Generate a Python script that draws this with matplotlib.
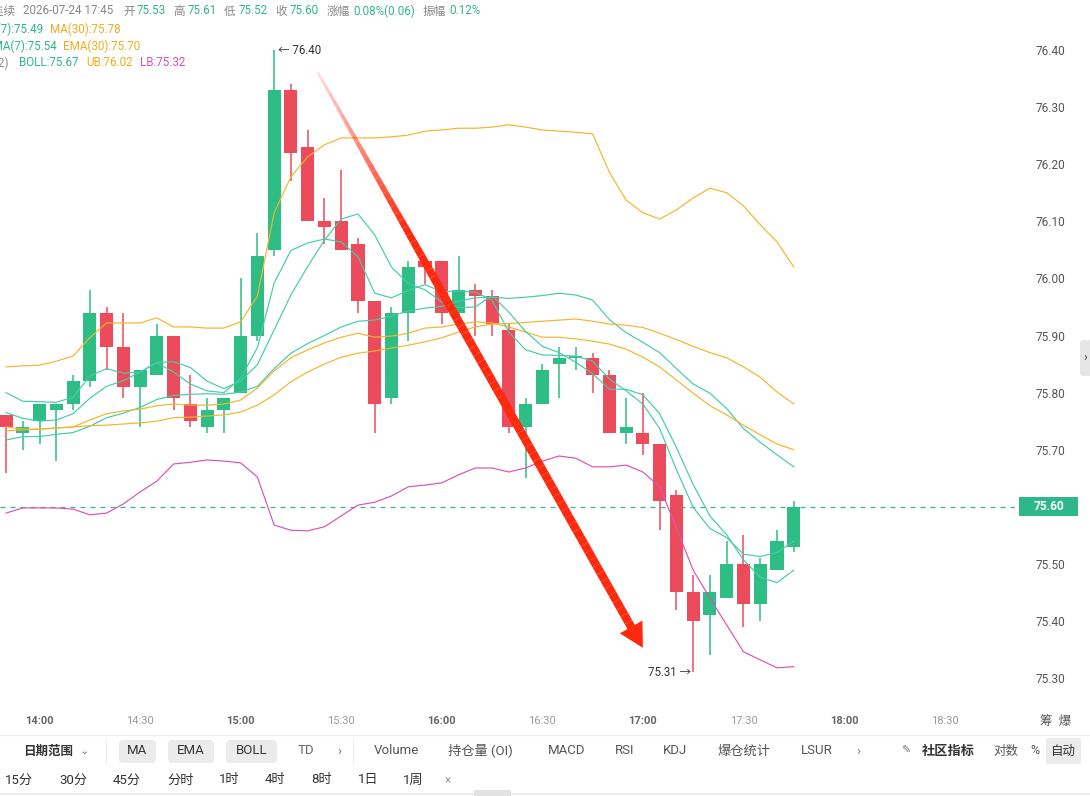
import numpy as np
import matplotlib.pyplot as plt
from matplotlib.patches import Rectangle, FancyBboxPatch, Polygon
from matplotlib.collections import LineCollection
from matplotlib.transforms import IdentityTransform, blended_transform_factory

plt.rcParams['font.family'] = ['Roboto', 'Noto Sans CJK SC', 'DejaVu Sans']

# 5-minute candles
times = ['13:50', '13:55', '14:00', '14:05', '14:10', '14:15', '14:20', '14:25',
         '14:30', '14:35', '14:40', '14:45', '14:50', '14:55', '15:00', '15:05',
         '15:10', '15:15', '15:20', '15:25', '15:30', '15:35', '15:40', '15:45',
         '15:50', '15:55', '16:00', '16:05', '16:10', '16:15', '16:20', '16:25',
         '16:30', '16:35', '16:40', '16:45', '16:50', '16:55', '17:00', '17:05',
         '17:10', '17:15', '17:20', '17:25', '17:30', '17:35', '17:40', '17:45']
opens = [75.76, 75.73, 75.75, 75.77, 75.78, 75.82, 75.94, 75.88, 75.81, 75.83, 75.90, 75.78,
         75.74, 75.77, 75.80, 75.90, 76.05, 76.33, 76.23, 76.10, 76.10, 76.06, 75.96, 75.79,
         75.94, 76.03, 76.03, 75.94, 75.98, 75.97, 75.91, 75.74, 75.78, 75.85, 75.86, 75.86,
         75.83, 75.73, 75.73, 75.71, 75.62, 75.45, 75.41, 75.44, 75.50, 75.43, 75.49, 75.53]
highs = [75.76, 75.75, 75.78, 75.78, 75.83, 75.98, 75.95, 75.94, 75.84, 75.92, 75.90, 75.83,
         75.79, 75.79, 76.00, 76.08, 76.40, 76.34, 76.26, 76.14, 76.19, 76.07, 75.96, 75.95,
         76.03, 76.04, 76.03, 76.04, 75.99, 75.98, 75.92, 75.79, 75.85, 75.88, 75.88, 75.87,
         75.84, 75.79, 75.80, 75.71, 75.63, 75.48, 75.48, 75.54, 75.55, 75.51, 75.56, 75.61]
lows = [75.66, 75.70, 75.71, 75.68, 75.77, 75.81, 75.84, 75.79, 75.74, 75.83, 75.77, 75.74,
        75.73, 75.73, 75.80, 75.89, 76.04, 76.17, 76.10, 76.06, 76.05, 75.94, 75.73, 75.78,
        75.89, 75.99, 75.92, 75.93, 75.90, 75.90, 75.73, 75.65, 75.78, 75.79, 75.84, 75.80,
        75.73, 75.71, 75.69, 75.56, 75.42, 75.31, 75.34, 75.44, 75.39, 75.40, 75.49, 75.52]
closes = [75.74, 75.74, 75.78, 75.78, 75.82, 75.94, 75.88, 75.81, 75.84, 75.90, 75.79, 75.75,
          75.77, 75.79, 75.90, 76.04, 76.33, 76.22, 76.10, 76.09, 76.05, 75.96, 75.78, 75.94,
          76.02, 76.02, 75.94, 75.98, 75.97, 75.92, 75.74, 75.78, 75.84, 75.86, 75.86, 75.83,
          75.73, 75.74, 75.71, 75.61, 75.45, 75.40, 75.45, 75.50, 75.43, 75.50, 75.54, 75.60]

ma7 = [75.765, 75.755, 75.750, 75.752, 75.763, 75.790, 75.811, 75.821, 75.836, 75.853, 75.854, 75.844,
       75.820, 75.807, 75.820, 75.849, 75.910, 75.971, 76.021, 76.067, 76.104, 76.113, 76.076, 76.020,
       75.991, 75.980, 75.959, 75.949, 75.950, 75.970, 75.941, 75.907, 75.881, 75.870, 75.853, 75.833,
       75.806, 75.806, 75.796, 75.763, 75.704, 75.639, 75.584, 75.551, 75.507, 75.477, 75.467, 75.489]
ema7 = [75.800, 75.785, 75.784, 75.783, 75.792, 75.829, 75.842, 75.834, 75.836, 75.852, 75.836, 75.815,
        75.803, 75.800, 75.825, 75.879, 75.992, 76.049, 76.062, 76.069, 76.064, 76.038, 75.974, 75.966,
        75.979, 75.989, 75.977, 75.978, 75.976, 75.962, 75.906, 75.875, 75.866, 75.865, 75.864, 75.855,
        75.824, 75.803, 75.780, 75.737, 75.665, 75.599, 75.562, 75.546, 75.517, 75.513, 75.520, 75.540]
ma30 = [75.733, 75.735, 75.736, 75.738, 75.740, 75.742, 75.743, 75.745, 75.747, 75.750, 75.756, 75.757,
        75.759, 75.761, 75.766, 75.778, 75.796, 75.819, 75.836, 75.850, 75.862, 75.869, 75.873, 75.878,
        75.883, 75.889, 75.896, 75.906, 75.915, 75.920, 75.921, 75.923, 75.925, 75.927, 75.929, 75.925,
        75.920, 75.918, 75.914, 75.904, 75.893, 75.881, 75.870, 75.861, 75.845, 75.827, 75.801, 75.780]
ema30 = [75.740, 75.736, 75.736, 75.738, 75.740, 75.752, 75.763, 75.768, 75.771, 75.777, 75.780, 75.778,
         75.778, 75.780, 75.787, 75.808, 75.838, 75.861, 75.875, 75.887, 75.897, 75.904, 75.897, 75.899,
         75.904, 75.913, 75.915, 75.920, 75.924, 75.922, 75.915, 75.906, 75.897, 75.897, 75.894, 75.890,
         75.885, 75.876, 75.862, 75.845, 75.822, 75.799, 75.777, 75.761, 75.743, 75.726, 75.710, 75.700]
boll_ub = [75.845, 75.847, 75.848, 75.855, 75.864, 75.896, 75.922, 75.922, 75.922, 75.931, 75.915, 75.915,
           75.913, 75.913, 75.924, 75.969, 76.115, 76.178, 76.213, 76.234, 76.246, 76.246, 76.246, 76.248,
           76.251, 76.258, 76.260, 76.263, 76.263, 76.265, 76.269, 76.265, 76.260, 76.258, 76.256, 76.253,
           76.186, 76.137, 76.115, 76.104, 76.120, 76.141, 76.158, 76.150, 76.127, 76.094, 76.064, 76.020]
boll_lb = [75.589, 75.598, 75.598, 75.598, 75.596, 75.586, 75.589, 75.605, 75.626, 75.645, 75.675, 75.678,
           75.682, 75.680, 75.677, 75.652, 75.568, 75.559, 75.558, 75.565, 75.584, 75.603, 75.608, 75.619,
           75.635, 75.638, 75.642, 75.656, 75.668, 75.668, 75.661, 75.668, 75.680, 75.689, 75.685, 75.670,
           75.670, 75.673, 75.661, 75.635, 75.563, 75.489, 75.440, 75.393, 75.346, 75.332, 75.318, 75.320]
boll_mid = [75.717, 75.723, 75.723, 75.727, 75.730, 75.741, 75.756, 75.764, 75.774, 75.788, 75.795, 75.797,
            75.798, 75.797, 75.801, 75.811, 75.842, 75.869, 75.886, 75.900, 75.915, 75.925, 75.927, 75.934,
            75.943, 75.948, 75.951, 75.960, 75.966, 75.967, 75.965, 75.967, 75.970, 75.974, 75.971, 75.962,
            75.928, 75.905, 75.888, 75.870, 75.842, 75.815, 75.799, 75.772, 75.737, 75.713, 75.691, 75.670]

tick_times = ['14:00', '14:30', '15:00', '15:30', '16:00', '16:30', '17:00', '17:30', '18:00', '18:30']
last_price = 75.60
price_ticks = [75.30, 75.40, 75.50, 75.60, 75.70, 75.80, 75.90, 76.00, 76.10, 76.20, 76.30, 76.40]

GREEN = '#2ebd85'
RED = '#eb4b5b'
TEAL = '#45cca9'
ORANGE = '#f4b52c'
PINK = '#dc52b8'
GRAY = '#888888'

W, H = 1090, 796
fig = plt.figure(figsize=(W / 100, H / 100), dpi=100)
ax = fig.add_axes([0, (H - 705) / H, 1015 / W, 705 / H])
for s in ax.spines.values():
    s.set_visible(False)

def to_idx(t):
    hh, mm = t.split(':')
    return (int(hh) * 60 + int(mm) - (13 * 60 + 50)) / 5

x = np.array([to_idx(t) for t in times])
o = np.array(opens); c = np.array(closes)
colors = [GREEN if cc >= oo else RED for oo, cc in zip(o, c)]

ax.vlines(x, lows, highs, colors=colors, lw=1.1, zorder=2)
body = np.maximum(np.abs(c - o), 0.004)
ax.bar(x, body, bottom=np.minimum(o, c), width=0.78, color=colors, lw=0, zorder=2)

ax.plot(x, boll_ub, color=ORANGE, lw=0.85, zorder=3)
ax.plot(x, boll_lb, color=PINK, lw=0.85, zorder=3)
ax.plot(x, boll_mid, color=TEAL, lw=0.85, zorder=3)
ax.plot(x, ma30, color=ORANGE, lw=0.85, zorder=3)
ax.plot(x, ema30, color=ORANGE, lw=0.85, zorder=3)
ax.plot(x, ma7, color=TEAL, lw=0.85, zorder=3)
ax.plot(x, ema7, color=TEAL, lw=0.85, zorder=3)

ax.axhline(last_price, color='#3bb592', lw=0.9, ls=(0, (4, 4)), zorder=1)

ax.set_xlim(-0.358, 60.2)
ax.set_ylim(75.2529, 76.4876)

# price axis on the right; the last-price tag covers its own level
ax.yaxis.tick_right()
ax.set_yticks(price_ticks)
ax.set_yticklabels(['' if abs(p - last_price) < 1e-9 else '%.2f' % p for p in price_ticks])
ax.tick_params(axis='y', length=0, pad=15, labelsize=8.6, labelcolor='#555555')
ax.set_xticks([to_idx(t) for t in tick_times])
ax.set_xticklabels(tick_times)
ax.tick_params(axis='x', length=0, pad=8, labelsize=8)
for lab in ax.get_xticklabels():
    if lab.get_text().endswith(':00'):
        lab.set_color('#666666'); lab.set_fontweight('bold')
    else:
        lab.set_color('#9a9a9a')

# high / low markers
hi = int(np.argmax(highs)); lo = int(np.argmin(lows))
ax.annotate('\u2190 %.2f' % highs[hi], xy=(x[hi], highs[hi]), xytext=(4, 0),
            textcoords='offset pixels', ha='left', va='center', fontsize=8.3, color='#333333')
ax.annotate('%.2f \u2192' % lows[lo], xy=(x[lo], lows[lo]), xytext=(-2, 0),
            textcoords='offset pixels', ha='right', va='center', fontsize=8.3, color='#333333')

# last price tag
bt = blended_transform_factory(ax.transAxes, ax.transData)
ax.add_patch(Rectangle((1.004, last_price - 0.0166), 59 / 1015, 0.0333, transform=bt,
                       fc='#2eb88a', ec='none', clip_on=False, zorder=5))
ax.text(1.004 + 29.5 / 1015, last_price, '%.2f' % last_price, transform=bt, ha='center',
        va='center', color='white', fontsize=8.6, fontweight='bold', zorder=6)

# red trend arrow
fig.canvas.draw()
p0 = ax.transData.transform((18.6, 76.361))
p1 = ax.transData.transform((38.0, 75.353))
d = (p1 - p0) / np.linalg.norm(p1 - p0)
perp = np.array([-d[1], d[0]])
head_len, head_half = 24, 13
shaft_end = p1 - d * head_len * 0.9
ts = np.linspace(0, 1, 80)
pts = p0[None, :] + ts[:, None] * (shaft_end - p0)[None, :]
segs = [[pts[k], pts[k + 1]] for k in range(len(pts) - 1)]
tm = (ts[:-1] + ts[1:]) / 2
alphas = 0.15 + 0.85 * np.clip(tm / 0.28, 0, 1)
widths = (2.5 + 6.0 * np.clip(tm / 0.4, 0, 1)) * 0.72
rgba = [(1.0, 0.16, 0.05, a) for a in alphas]
lc = LineCollection(segs, colors=rgba, linewidths=widths, transform=IdentityTransform(),
                    capstyle='butt', zorder=10)
fig.add_artist(lc)
base = p1 - d * head_len
head = Polygon([p1, base + perp * head_half, base - perp * head_half], closed=True,
               transform=IdentityTransform(), fc='#ff2a0d', ec='none', zorder=10)
fig.add_artist(head)

# ---- overlay texts and toolbar (pixel layout) ----
T = fig.dpi_scale_trans

def ptxt(px, py, s, **kw):
    kw.setdefault('va', 'center')
    return fig.text(px / 100, (H - py) / 100, s, transform=T, **kw)

def pbox(x0, y0, x1, y1, color, r=4):
    fig.add_artist(FancyBboxPatch((x0 / 100, (H - y1) / 100), (x1 - x0) / 100, (y1 - y0) / 100,
                                  boxstyle='round,pad=0,rounding_size=%f' % (r / 100),
                                  transform=T, fc=color, ec='none'))

def pline(x0, y0, x1, y1, color='#ececec', lw=0.8):
    fig.add_artist(plt.Line2D([x0 / 100, x1 / 100], [(H - y0) / 100, (H - y1) / 100],
                              transform=T, color=color, lw=lw))

VAL = '#2fb58c'
LOR = '#f0ad1c'
LPK = '#dd4fb6'
fs = 8.4
ptxt(15, 11, 'K线连续', ha='right', color=GRAY, fontsize=fs)
row1 = [(23, '2026-07-24 17:45', GRAY), (123, '开', GRAY), (137, '75.53', VAL),
        (173, '高', GRAY), (188, '75.61', VAL), (224, '低', GRAY), (239, '75.52', VAL),
        (275, '收', GRAY), (290, '75.60', VAL), (327, '涨幅', GRAY), (353, '0.08%(0.06)', VAL),
        (423, '振幅', GRAY), (449, '0.12%', VAL)]
for px, s, col in row1:
    ptxt(px, 11, s, color=col, fontsize=fs)
ptxt(43, 29, 'MA(7):%.2f' % ma7[-1], ha='right', color=VAL, fontsize=fs)
ptxt(50, 29, 'MA(30):%.2f' % ma30[-1], color=LOR, fontsize=fs)
ptxt(57, 46, 'EMA(7):%.2f' % ema7[-1], ha='right', color=VAL, fontsize=fs)
ptxt(63, 46, 'EMA(30):%.2f' % ema30[-1], color=LOR, fontsize=fs)
ptxt(9, 63, 'BOLL(20,2)', ha='right', color=GRAY, fontsize=fs)
ptxt(19, 63, 'BOLL:%.2f' % boll_mid[-1], color=VAL, fontsize=fs)
ptxt(86, 63, 'UB:%.2f' % boll_ub[-1], color=LOR, fontsize=fs)
ptxt(140, 63, 'LB:%.2f' % boll_lb[-1], color=LPK, fontsize=fs)

ptxt(1040, 722, '筹  爆', color='#555555', fontsize=9)

# right edge tab
pbox(1080, 340, 1094, 376, '#e6e6e6', r=3)
ptxt(1085, 357, '›', color='#444444', fontsize=9, ha='center')

# toolbar
pline(0, 735, W, 735)
pline(106, 739, 106, 763)
pline(353, 739, 353, 763)
pbox(119, 740, 156, 763, '#ebebeb')
pbox(168, 740, 214, 763, '#ebebeb')
pbox(226, 740, 277, 763, '#ebebeb')
pbox(1046, 738, 1081, 764, '#ebebeb', r=2)
tfs = 9.5
ptxt(23, 751, '日期范围', color='#333333', fontsize=9, fontweight='bold')
ptxt(80, 751, '⌄', color='#777777', fontsize=8)
for cx, s in [(137.5, 'MA'), (191, 'EMA'), (251.5, 'BOLL')]:
    ptxt(cx, 751, s, color='#333333', fontsize=tfs, ha='center')
ptxt(306, 751, 'TD', color='#666666', fontsize=tfs, ha='center')
ptxt(339, 751, '›', color='#777777', fontsize=tfs, ha='center')
for px, s in [(374, 'Volume'), (448, '持仓量 (OI)'), (548, 'MACD'), (615, 'RSI'),
              (663, 'KDJ'), (717, '爆仓统计'), (801, 'LSUR')]:
    ptxt(px, 751, s, color='#555555', fontsize=tfs)
ptxt(858, 751, '›', color='#777777', fontsize=tfs, ha='center')
ptxt(906, 751, '✎', color='#777777', fontsize=8, ha='center')
ptxt(922, 751, '社区指标', color='#333333', fontsize=tfs, fontweight='bold')
ptxt(993, 751, '对数', color='#555555', fontsize=9)
ptxt(1035, 751, '%', color='#555555', fontsize=9, ha='center')
ptxt(1063.5, 751, '自动', color='#333333', fontsize=9, ha='center')

for px, s in [(5, '15分'), (59, '30分'), (113, '45分'), (167, '分时'), (219, '1时'),
              (265, '4时'), (311, '8时'), (358, '1日'), (403, '1周')]:
    ptxt(px, 780, s, color='#333333', fontsize=tfs)
ptxt(448, 780, '×', color='#999999', fontsize=8.5, ha='center')

pline(0, 794, W, 794, color='#e4e4e4', lw=1.2)
pbox(474, 790, 511, 797, '#e2e2e2', r=1)

fig.savefig('out.png', dpi=100, facecolor='white')
